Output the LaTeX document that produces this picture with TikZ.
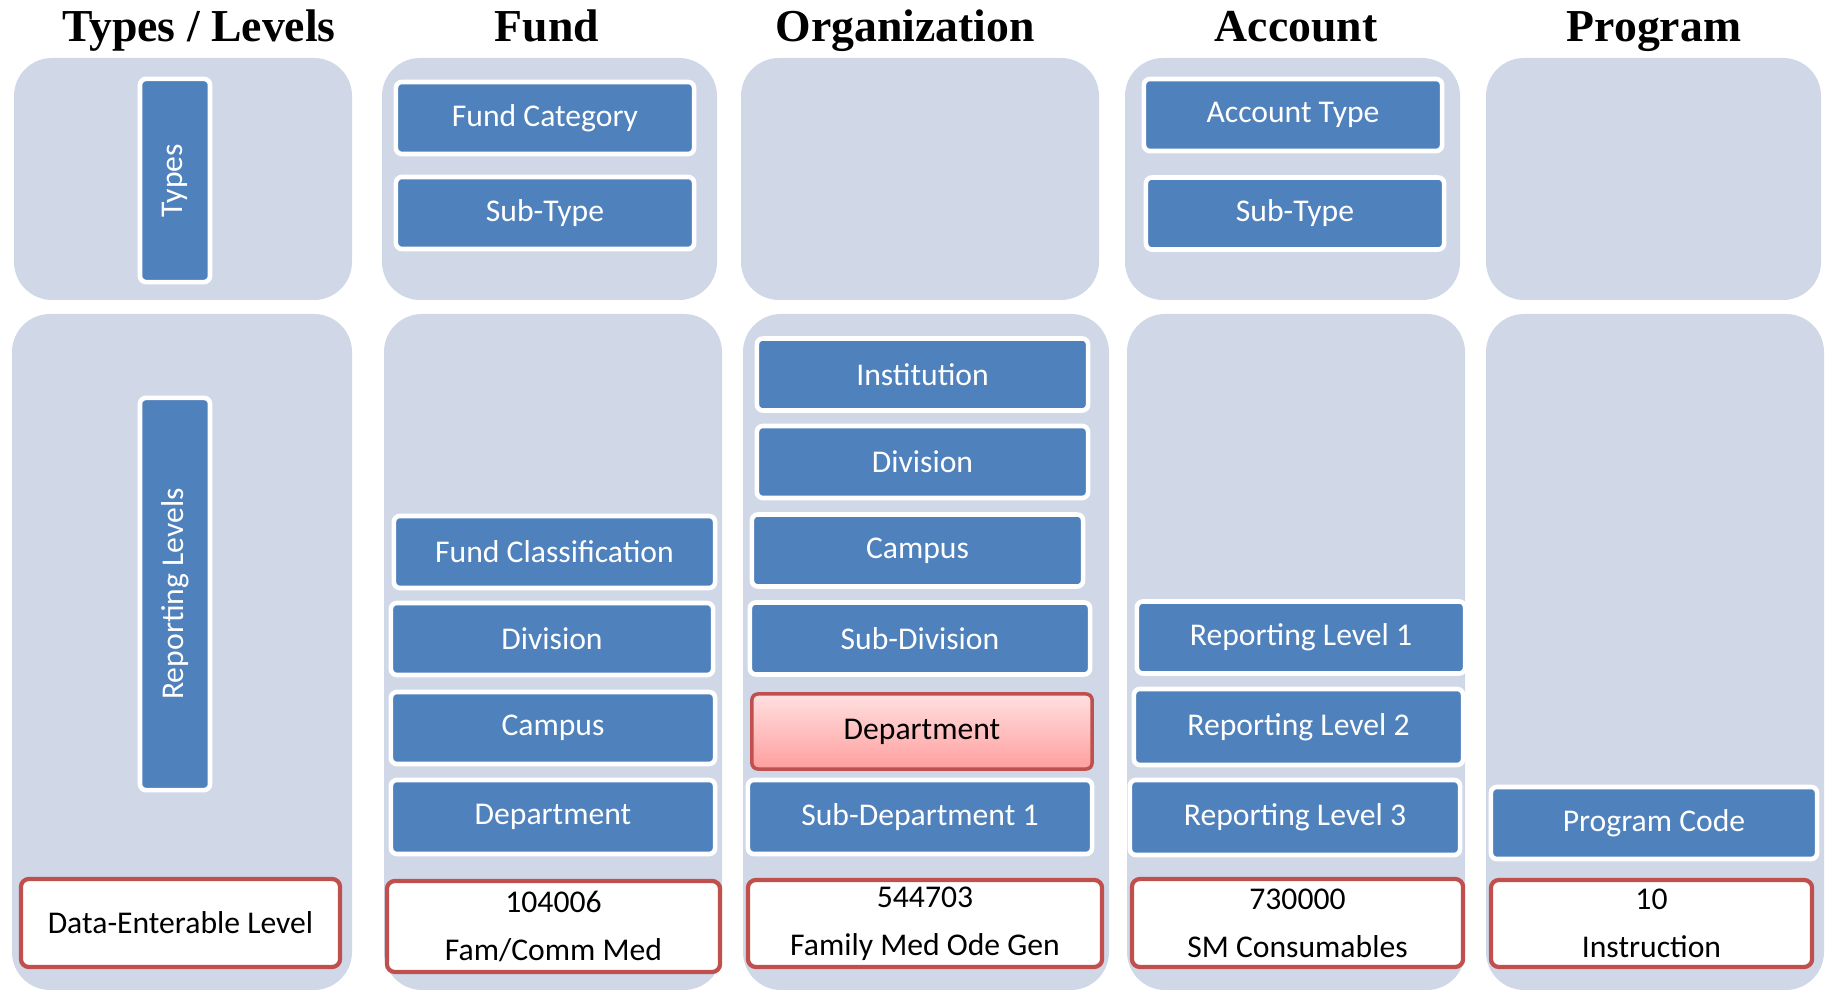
\documentclass[tikz,border=0pt]{standalone}
\usepackage{fontspec}
\setmainfont{Carlito}
\newfontfamily\headfont{Liberation Serif}
\definecolor{panelC}{HTML}{D0D8E8}
\definecolor{blueC}{HTML}{4F81BD}
\definecolor{redC}{HTML}{C0504D}
\tikzset{
  panel/.style={fill=panelC, rounded corners=0.38cm},
  head/.style={font=\headfont\bfseries\fontsize{13}{15}\selectfont, anchor=base},
  blk/.style={rounded corners=0.06cm, fill=blueC, draw=white, line width=1.3pt,
    text=white, minimum height=0.72cm, inner sep=0pt,
    font=\fontsize{9}{11}\selectfont},
  val/.style={rounded corners=0.08cm, fill=white, draw=redC, line width=1.2pt,
    align=center, inner sep=0pt, minimum height=0.88cm,
    font=\fontsize{9}{13.6}\selectfont},
  hot/.style={rounded corners=0.06cm, draw=redC, line width=1pt,
    top color=red!12, bottom color=red!38, minimum height=0.75cm,
    inner sep=0pt, font=\fontsize{9}{11}\selectfont}
}
\begin{document}
\begin{tikzpicture}[x=0.01cm, y=-0.01cm]
        \useasboundingbox (0,0) rectangle (1826,992);

        % panels, top and bottom row
        \foreach \l/\r in {14/352, 382/717, 741/1099, 1125/1460, 1486/1821}{
          \fill[panel] (\l,58) rectangle (\r,300);
        }
        \foreach \l/\r in {12/352, 384/722, 743/1109, 1127/1465, 1486/1824}{
          \fill[panel] (\l,314) rectangle (\r,990);
        }

        % column headings
        \node[head] (hlev) at (199,42) {Types / Levels};
        \node[head] (hfund) at (547,42) {Fund};
        \node[head] (horg) at (905,42) {Organization};
        \node[head] (hacc) at (1296,42) {Account};
        \node[head] (hprog) at (1654,42) {Program};

        % types / levels
        \node[blk, rotate=90, minimum width=2.03cm, minimum height=0.70cm] (typ) at (175,180.5) {Types};
        \node[blk, rotate=90, minimum width=3.92cm, minimum height=0.70cm] (rep) at (175,594) {Reporting Levels};
        \node[val, minimum width=3.19cm] (dval) at (180.5,923) {Data-Enterable Level};

        % fund
        \node[blk, minimum width=2.98cm] (fcat) at (545,118) {Fund Category};
        \node[blk, minimum width=2.98cm] (fsub) at (545,213) {Sub-Type};
        \node[blk, minimum width=3.21cm] (fcls) at (554.5,552) {Fund Classification};
        \node[blk, minimum width=3.22cm] (fdiv) at (552,639) {Division};
        \node[blk, minimum width=3.24cm] (fcmp) at (553,728) {Campus};
        \node[blk, minimum width=3.24cm, minimum height=0.74cm] (fdep) at (553,817) {Department};
        \node[val, minimum width=3.33cm, minimum height=0.91cm] (fval) at (553.5,926.5) {104006\\Fam/Comm Med};

        % organization
        \node[blk, minimum width=3.31cm] (oins) at (922.5,374.5) {Institution};
        \node[blk, minimum width=3.31cm] (odiv) at (922.5,462) {Division};
        \node[blk, minimum width=3.31cm] (ocmp) at (917.5,550.5) {Campus};
        \node[blk, minimum width=3.40cm] (osdv) at (920,638.5) {Sub-Division};
        \node[hot, minimum width=3.40cm] (odep) at (922,731.5) {Department};
        \node[blk, minimum width=3.44cm, minimum height=0.74cm] (osub) at (920,817) {Sub-Department 1};
        \node[val, minimum width=3.54cm, minimum height=0.87cm] (oval) at (925,923.5) {544703\\Family Med Ode Gen};

        % account
        \node[blk, minimum width=2.98cm] (atyp) at (1293,115) {Account Type};
        \node[blk, minimum width=2.98cm] (asub) at (1295,213.5) {Sub-Type};
        \node[blk, minimum width=3.28cm] (arl1) at (1301,637.5) {Reporting Level 1};
        \node[blk, minimum width=3.29cm, minimum height=0.76cm] (arl2) at (1298.5,727) {Reporting Level 2};
        \node[blk, minimum width=3.30cm, minimum height=0.75cm] (arl3) at (1295,817.5) {Reporting Level 3};
        \node[val, minimum width=3.31cm] (aval) at (1297.5,923) {730000\\SM Consumables};

        % program
        \node[blk, minimum width=3.26cm] (pcod) at (1654,823) {Program Code};
        \node[val, minimum width=3.21cm, minimum height=0.87cm] (pval) at (1651.5,923.5) {10\\Instruction};
\end{tikzpicture}
\end{document}
